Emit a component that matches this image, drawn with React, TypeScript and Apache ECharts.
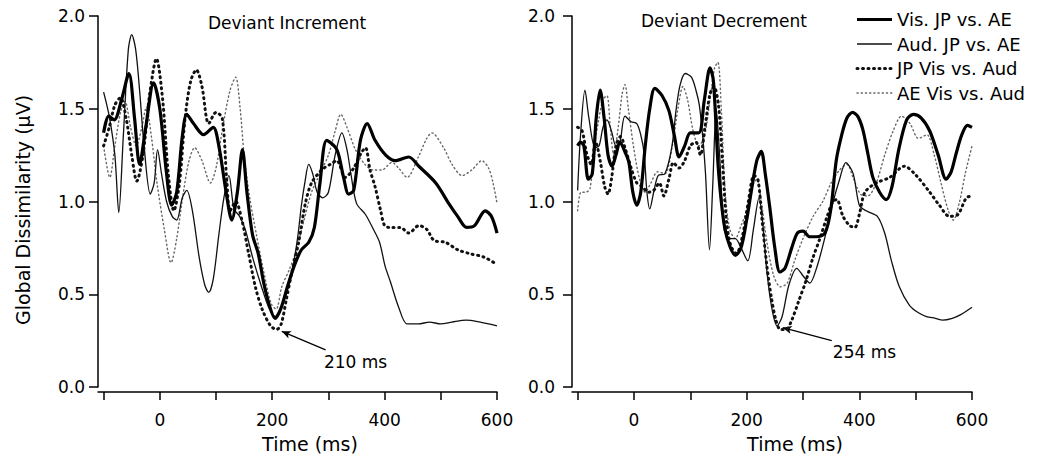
import React, { useEffect, useRef } from "react";
import * as echarts from "echarts";

const FONT = "DejaVu Sans";

const xTicks = [-100, 0, 100, 200, 300, 400, 500, 600];
const xLabels = [0, 200, 400, 600];
const seriesNames = ["Vis. JP vs. AE", "Aud. JP vs. AE", "JP Vis vs. Aud", "AE Vis vs. Aud"];
const panelTitles = ["Deviant Increment", "Deviant Decrement"];
const xName = "Time (ms)";
const yName = "Global Dissimilarity (μV)";

// ---- Deviant Increment ----
const incVis = [
  [-100, 1.37], [-91, 1.46], [-81, 1.44], [-68, 1.55], [-55, 1.69], [-45, 1.45], [-36, 1.2], [-25, 1.4],
  [-11, 1.64], [0, 1.5], [12, 1.15], [21, 0.98], [30, 1.05], [40, 1.35], [48, 1.47], [60, 1.42],
  [78, 1.36], [95, 1.4], [105, 1.3], [118, 1.05], [128, 0.9], [138, 1.05], [147, 1.28], [155, 1.05],
  [165, 0.82], [175, 0.72], [185, 0.56], [195, 0.44], [205, 0.37], [215, 0.42], [228, 0.55], [240, 0.66],
  [252, 0.74], [265, 0.78], [275, 0.86], [285, 1.1], [297, 1.33], [315, 1.28], [327, 1.13], [336, 1.04],
  [345, 1.06], [357, 1.33], [369, 1.42], [383, 1.33], [402, 1.25], [419, 1.22], [443, 1.24], [461, 1.19],
  [491, 1.1], [514, 0.99], [530, 0.92], [546, 0.86], [560, 0.87], [579, 0.95], [590, 0.92], [600, 0.83],
];
const incAud = [
  [-100, 1.59], [-90, 1.46], [-80, 1.25], [-73, 0.94], [-65, 1.35], [-56, 1.82], [-50, 1.9], [-43, 1.82],
  [-36, 1.6], [-28, 1.3], [-17, 1.04], [-10, 1.1], [-4, 1.28], [3, 1.15], [12, 1.0], [22, 0.92],
  [30, 0.9], [40, 1.02], [48, 1.06], [58, 0.95], [70, 0.7], [80, 0.55], [87, 0.51], [95, 0.58],
  [105, 0.82], [114, 1.02], [123, 1.14], [132, 0.96], [142, 0.92], [152, 0.85], [165, 0.7], [180, 0.55],
  [195, 0.42], [205, 0.38], [220, 0.46], [235, 0.62], [245, 0.8], [252, 0.98], [258, 1.1], [265, 1.2],
  [272, 1.15], [280, 1.05], [290, 1.02], [300, 1.05], [312, 1.25], [324, 1.37], [333, 1.28], [340, 1.15],
  [350, 0.99], [366, 0.93], [380, 0.85], [391, 0.78], [401, 0.65], [410, 0.57], [425, 0.43], [440, 0.34],
  [460, 0.34], [480, 0.35], [500, 0.34], [520, 0.35], [545, 0.36], [570, 0.35], [585, 0.34], [600, 0.33],
];
const incJP = [
  [-100, 1.3], [-90, 1.4], [-80, 1.52], [-70, 1.56], [-60, 1.45], [-50, 1.25], [-41, 1.11], [-30, 1.25],
  [-18, 1.58], [-6, 1.77], [5, 1.55], [15, 1.15], [25, 0.95], [35, 1.1], [45, 1.45], [55, 1.65],
  [65, 1.71], [75, 1.62], [87, 1.42], [100, 1.48], [111, 1.45], [119, 1.12], [125, 0.95], [135, 1.0],
  [146, 0.9], [158, 0.72], [170, 0.54], [182, 0.42], [197, 0.33], [208, 0.31], [216, 0.34], [225, 0.47],
  [235, 0.62], [247, 0.78], [259, 0.99], [270, 1.1], [288, 1.17], [303, 1.2], [315, 1.22], [330, 1.13],
  [345, 1.18], [358, 1.26], [366, 1.29], [374, 1.17], [383, 1.08], [393, 0.95], [400, 0.87], [410, 0.86],
  [428, 0.86], [443, 0.83], [461, 0.87], [475, 0.85], [488, 0.79], [508, 0.78], [530, 0.74], [550, 0.72],
  [577, 0.7], [600, 0.66],
];
const incAE = [
  [-100, 1.3], [-89, 1.13], [-80, 1.3], [-70, 1.48], [-62, 1.54], [-52, 1.4], [-42, 1.3], [-32, 1.4],
  [-24, 1.51], [-15, 1.35], [-5, 1.1], [8, 0.85], [20, 0.67], [30, 0.8], [42, 1.05], [52, 1.22],
  [62, 1.29], [75, 1.22], [90, 1.1], [100, 1.18], [112, 1.4], [125, 1.6], [135, 1.67], [143, 1.5],
  [150, 1.25], [160, 1.02], [172, 0.82], [185, 0.62], [198, 0.45], [207, 0.42], [217, 0.54], [230, 0.63],
  [241, 0.72], [255, 0.88], [270, 1.05], [285, 1.15], [300, 1.25], [312, 1.38], [322, 1.47], [333, 1.4],
  [348, 1.28], [365, 1.2], [380, 1.17], [395, 1.17], [413, 1.21], [425, 1.18], [440, 1.13], [460, 1.24],
  [475, 1.34], [484, 1.37], [505, 1.29], [520, 1.2], [538, 1.14], [555, 1.17], [573, 1.22], [585, 1.18],
  [593, 1.1], [600, 0.99],
];

// ---- Deviant Decrement ----
const decVis = [
  [-100, 1.3], [-95, 1.32], [-89, 1.3], [-81, 1.12], [-74, 1.15], [-67, 1.45], [-60, 1.6], [-53, 1.45],
  [-46, 1.25], [-39, 1.19], [-32, 1.25], [-25, 1.32], [-15, 1.26], [-9, 1.21], [-2, 1.05], [5, 0.98],
  [12, 1.05], [20, 1.3], [28, 1.5], [37, 1.61], [50, 1.57], [62, 1.49], [72, 1.35], [80, 1.24],
  [90, 1.3], [100, 1.37], [115, 1.37], [125, 1.55], [135, 1.72], [141, 1.65], [149, 1.21], [155, 1.0],
  [161, 0.86], [170, 0.76], [180, 0.71], [190, 0.75], [200, 0.9], [208, 1.05], [218, 1.22], [226, 1.27],
  [233, 1.15], [241, 0.97], [250, 0.75], [259, 0.62], [268, 0.64], [280, 0.75], [290, 0.83], [300, 0.84],
  [312, 0.81], [324, 0.81], [339, 0.83], [349, 0.95], [359, 1.22], [368, 1.35], [378, 1.45], [388, 1.48],
  [397, 1.46], [406, 1.39], [415, 1.26], [424, 1.13], [436, 1.05], [448, 1.01], [458, 1.08], [470, 1.28],
  [484, 1.44], [496, 1.47], [510, 1.45], [525, 1.38], [540, 1.25], [554, 1.12], [563, 1.16], [572, 1.26],
  [582, 1.36], [592, 1.41], [600, 1.4],
];
const decAud = [
  [-100, 1.06], [-95, 1.35], [-87, 1.6], [-80, 1.45], [-69, 1.29], [-62, 1.3], [-55, 1.4], [-48, 1.44],
  [-40, 1.38], [-32, 1.3], [-25, 1.32], [-16, 1.46], [-5, 1.43], [5, 1.42], [12, 1.36], [18, 1.26],
  [23, 1.05], [28, 0.96], [35, 1.05], [43, 1.14], [55, 1.15], [67, 1.29], [75, 1.5], [82, 1.63],
  [91, 1.69], [102, 1.67], [110, 1.6], [116, 1.52], [122, 1.35], [127, 1.15], [134, 0.74], [140, 1.1],
  [146, 1.5], [152, 1.25], [160, 0.85], [170, 0.8], [180, 0.8], [190, 0.75], [202, 0.68], [212, 0.85],
  [222, 1.02], [228, 0.9], [236, 0.62], [245, 0.42], [254, 0.33], [263, 0.38], [275, 0.55], [289, 0.64],
  [300, 0.6], [312, 0.56], [325, 0.65], [340, 0.82], [352, 0.98], [365, 1.12], [376, 1.21], [389, 1.15],
  [400, 0.98], [412, 0.95], [432, 0.92], [445, 0.83], [457, 0.68], [471, 0.54], [489, 0.44], [505, 0.4],
  [519, 0.38], [535, 0.37], [548, 0.36], [565, 0.37], [580, 0.39], [600, 0.43],
];
const decJP = [
  [-100, 1.4], [-92, 1.38], [-84, 1.26], [-76, 1.2], [-68, 1.32], [-60, 1.22], [-52, 1.08], [-46, 1.04],
  [-40, 1.12], [-32, 1.3], [-24, 1.35], [-15, 1.28], [-5, 1.18], [5, 1.1], [15, 1.08], [25, 1.05],
  [35, 1.06], [45, 1.1], [53, 1.03], [62, 1.12], [70, 1.21], [80, 1.18], [90, 1.22], [100, 1.3],
  [110, 1.32], [118, 1.25], [126, 1.4], [135, 1.58], [142, 1.62], [150, 1.52], [157, 1.22], [164, 0.9],
  [172, 0.76], [182, 0.72], [193, 0.82], [203, 1.0], [213, 1.14], [220, 1.12], [228, 0.88], [236, 0.65],
  [244, 0.48], [252, 0.36], [260, 0.31], [270, 0.31], [280, 0.36], [292, 0.46], [305, 0.57], [318, 0.7],
  [330, 0.8], [343, 0.92], [353, 1.0], [360, 1.01], [371, 0.92], [383, 0.87], [392, 0.86], [400, 0.93],
  [410, 1.05], [430, 1.1], [454, 1.13], [480, 1.19], [501, 1.14], [525, 1.05], [542, 0.98], [560, 0.92],
  [575, 0.93], [590, 1.02], [600, 1.03],
];
const decAE = [
  [-100, 0.95], [-94, 1.05], [-86, 1.05], [-78, 1.07], [-70, 1.3], [-62, 1.45], [-55, 1.55], [-48, 1.57],
  [-42, 1.4], [-36, 1.25], [-28, 1.4], [-21, 1.58], [-16, 1.63], [-10, 1.5], [0, 1.28], [10, 1.12],
  [20, 1.05], [30, 1.1], [42, 1.16], [55, 1.15], [68, 1.3], [78, 1.5], [87, 1.62], [95, 1.55],
  [105, 1.38], [115, 1.3], [125, 1.35], [135, 1.55], [143, 1.72], [149, 1.75], [155, 1.5], [162, 1.05],
  [170, 0.85], [180, 0.8], [190, 0.87], [200, 0.95], [210, 1.08], [218, 1.12], [226, 1.0], [236, 0.78],
  [248, 0.6], [260, 0.54], [272, 0.56], [285, 0.68], [300, 0.8], [318, 0.92], [335, 1.0], [350, 1.1],
  [365, 1.17], [378, 1.2], [390, 1.12], [402, 1.04], [415, 1.03], [430, 1.1], [445, 1.25], [460, 1.38],
  [475, 1.46], [490, 1.42], [505, 1.34], [520, 1.36], [533, 1.25], [545, 1.1], [558, 0.95], [567, 0.9],
  [578, 1.0], [588, 1.15], [600, 1.3],
];

// annotations (data coordinates): arrow tail, arrow tip, label anchor
const incArrow = { from: [295, 0.2], to: [217, 0.3], text: "210 ms", at: [292, 0.135] };
const decArrow = { from: [351, 0.25], to: [264, 0.32], text: "254 ms", at: [353, 0.19] };

const panels = [
  { data: [incVis, incAud, incJP, incAE], arrow: incArrow },
  { data: [decVis, decAud, decJP, decAE], arrow: decArrow },
];

const lineStyles: any[] = [
  { color: "#000", width: 3.2, type: "solid" },
  { color: "#111", width: 1.3, type: "solid" },
  { color: "#111", width: 3, type: [1, 4.5], cap: "round" },
  { color: "#666", width: 1.4, type: [1.2, 3], cap: "round" },
];

export default function App() {
  const ref = useRef<HTMLDivElement>(null);
  useEffect(() => {
    if (!ref.current) return;
    const chart = echarts.init(ref.current, undefined, { renderer: "svg" });
    const axisLineStyle = { color: "#000", width: 1.5 };
    const grids = [
      { left: 98, top: 16, width: 399, height: 371 },
      { left: 572, top: 16, width: 400, height: 371 },
    ];
    const xAxes = panels.map((_, p) => ({
      gridIndex: p,
      type: "value",
      min: -110,
      max: 600,
      offset: 5,
      axisLine: { show: true, onZero: false, lineStyle: axisLineStyle },
      axisTick: { show: true, customValues: xTicks, length: 8, lineStyle: axisLineStyle },
      axisLabel: { customValues: xLabels, color: "#000", fontSize: 17, fontFamily: FONT, margin: 19 },
      splitLine: { show: false },
      name: xName,
      nameLocation: "middle",
      nameGap: 42,
      nameTextStyle: { color: "#000", fontSize: 19, fontFamily: FONT, padding: [0, 0, 0, p === 0 ? 25 : 46] },
    }));
    const yAxes = panels.map((_, p) => ({
      gridIndex: p,
      type: "value",
      min: 0,
      max: 2,
      interval: 0.5,
      axisLine: { show: true, onZero: false, lineStyle: axisLineStyle },
      axisTick: { show: true, length: 9, lineStyle: axisLineStyle },
      axisLabel: {
        color: "#000",
        fontSize: 17,
        fontFamily: FONT,
        margin: p === 0 ? 13 : 17,
        formatter: (v: number) => v.toFixed(1),
      },
      splitLine: { show: false },
      name: p === 0 ? yName : "",
      nameLocation: "middle",
      nameGap: 66,
      nameTextStyle: { color: "#000", fontSize: 19, fontFamily: FONT, padding: [0, 17, 0, 0] },
    }));
    const series: any[] = [];
    panels.forEach((panel, p) => {
      panel.data.forEach((d, i) => {
        series.push({
          type: "line",
          name: seriesNames[i],
          xAxisIndex: p,
          yAxisIndex: p,
          data: d,
          showSymbol: false,
          symbol: "none",
          smooth: 0.3,
          lineStyle: lineStyles[i],
          z: 10 - i,
          silent: true,
          markLine:
            i === 0
              ? {
                  silent: true,
                  symbol: ["none", "arrow"],
                  symbolSize: [6, 9],
                  label: { show: false },
                  lineStyle: { color: "#000", width: 1.2, type: "solid" },
                  data: [[{ coord: panel.arrow.from }, { coord: panel.arrow.to }]],
                }
              : undefined,
        });
      });
    });
    chart.setOption({
      animation: false,
      backgroundColor: "#fff",
      grid: grids,
      xAxis: xAxes,
      yAxis: yAxes,
      series,
    });

    const graphics: any[] = [];
    panels.forEach((panel, p) => {
      const pt = chart.convertToPixel({ gridIndex: p }, panel.arrow.at) as number[];
      graphics.push({
        type: "text",
        x: pt[0],
        y: pt[1],
        style: { text: panel.arrow.text, fill: "#000", fontSize: 17, fontFamily: FONT, align: "left", verticalAlign: "middle" },
      });
    });
    const titlePos = [
      [287, 23],
      [724, 21],
    ];
    panelTitles.forEach((t, i) => {
      graphics.push({
        type: "text",
        x: titlePos[i][0],
        y: titlePos[i][1],
        style: { text: t, fill: "#000", fontSize: 17, fontFamily: FONT, align: "center", verticalAlign: "middle" },
      });
    });
    const legendRows = [19.5, 44, 68.5, 93];
    seriesNames.forEach((n, i) => {
      const ls = lineStyles[i];
      graphics.push({
        type: "line",
        shape: { x1: 857, y1: legendRows[i], x2: 892, y2: legendRows[i] },
        style: {
          stroke: ls.color,
          lineWidth: ls.width,
          lineDash: Array.isArray(ls.type) ? ls.type : null,
          lineCap: ls.cap || "butt",
        },
      });
      graphics.push({
        type: "text",
        x: 897,
        y: legendRows[i],
        style: { text: n, fill: "#000", fontSize: 18, fontFamily: FONT, align: "left", verticalAlign: "middle" },
      });
    });
    chart.setOption({ graphic: graphics });
    return () => chart.dispose();
  }, []);
  return (
    <div
      ref={ref}
      style={{ position: "fixed", left: 0, top: 0, width: 1037, height: 462, background: "#fff" }}
    />
  );
}
